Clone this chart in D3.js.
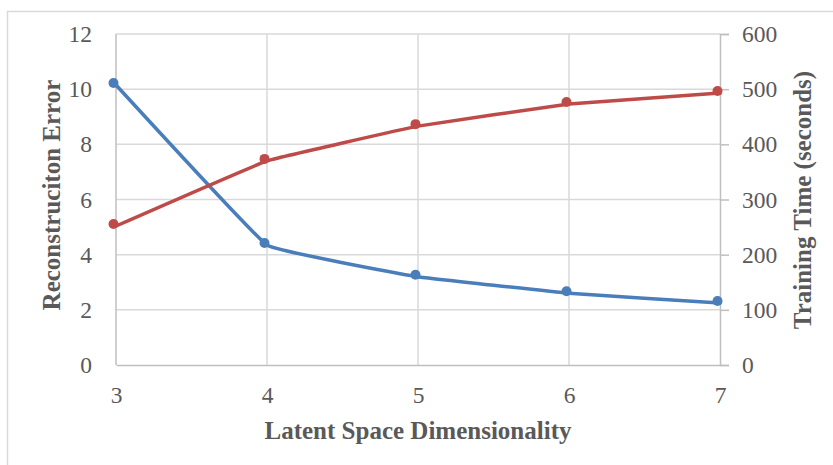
<!DOCTYPE html>
<html>
<head>
<meta charset="utf-8">
<script src="https://cdn.jsdelivr.net/npm/d3@7"></script>
<style>
  body { margin: 0; background: #fff; }
  text { font-family: "Liberation Serif", "Times New Roman", serif; fill: #595959; }
</style>
</head>
<body>
<svg width="833" height="465"></svg>
<script>
// chart data
var dims = [3, 4, 5, 6, 7];
var reconError = [10.15, 4.35, 3.2, 2.6, 2.25];
var trainTime = [252, 370, 433, 473, 493];
var leftTicks = [0, 2, 4, 6, 8, 10, 12];
var rightTicks = [0, 100, 200, 300, 400, 500, 600];

var svg = d3.select("svg"),
    margin = { top: 34, right: 113, bottom: 100, left: 116 },
    width = +svg.attr("width"),
    height = +svg.attr("height");

// outer chart frame
svg.append("rect")
    .attr("x", 7.5).attr("y", 11.5)
    .attr("width", 840).attr("height", 470)
    .attr("fill", "none")
    .attr("stroke", "#d9d9d9")
    .attr("stroke-width", 1.5);

var x = d3.scaleLinear()
    .domain([3, 7])
    .range([margin.left, width - margin.right]);

var yL = d3.scaleLinear()
    .domain([0, 12])
    .range([height - margin.bottom, margin.top]);

var yR = d3.scaleLinear()
    .domain([0, 600])
    .range([height - margin.bottom, margin.top]);

// gridlines
svg.append("g")
    .selectAll("line")
    .data(leftTicks.slice(1))
    .enter().append("line")
    .attr("x1", x(3)).attr("x2", x(7))
    .attr("y1", function(d) { return yL(d); })
    .attr("y2", function(d) { return yL(d); })
    .attr("stroke", "#d9d9d9").attr("stroke-width", 1.5);

svg.append("g")
    .selectAll("line")
    .data(dims.slice(1, -1))
    .enter().append("line")
    .attr("x1", function(d) { return x(d); })
    .attr("x2", function(d) { return x(d); })
    .attr("y1", yL(0)).attr("y2", yL(12))
    .attr("stroke", "#d9d9d9").attr("stroke-width", 1.5);

// left axis
var leftAxis = svg.append("g")
    .attr("transform", "translate(" + margin.left + ",0)")
    .call(d3.axisLeft(yL).tickValues(leftTicks).tickSize(0).tickPadding(24));

// right axis
var rightAxis = svg.append("g")
    .attr("transform", "translate(" + (width - margin.right) + ",0)")
    .call(d3.axisRight(yR).tickValues(rightTicks).tickSize(9).tickPadding(13));

// bottom axis
var bottomAxis = svg.append("g")
    .attr("transform", "translate(0," + (height - margin.bottom) + ")")
    .call(d3.axisBottom(x).tickValues(dims).tickFormat(d3.format("d")).tickSize(0).tickPadding(21));

[leftAxis, rightAxis, bottomAxis].forEach(function(a) {
  a.select(".domain").attr("stroke", "#bfbfbf").attr("stroke-width", 1.5);
  a.selectAll(".tick line").attr("stroke", "#bfbfbf").attr("stroke-width", 1.5);
  a.selectAll(".tick text")
      .style("font-family", "'Liberation Serif', serif")
      .style("font-size", "23.5px")
      .attr("fill", "#595959");
});
leftAxis.select(".domain").remove();
svg.append("line")
    .attr("x1", x(3)).attr("x2", x(3))
    .attr("y1", yL(0)).attr("y2", yL(12))
    .attr("stroke", "#bfbfbf").attr("stroke-width", 1.5);

// series
var series = [
  { values: reconError, y: yL, color: "#4a7ebb" },
  { values: trainTime, y: yR, color: "#be4b48" }
];

series.forEach(function(s) {
  var pts = dims.map(function(d, i) { return [x(d), s.y(s.values[i])]; });
  var line = d3.line().curve(d3.curveCardinal.tension(0.8));
  svg.append("path")
      .attr("d", line(pts))
      .attr("fill", "none")
      .attr("stroke", s.color)
      .attr("stroke-width", 3.5)
      .attr("stroke-linecap", "round");
  svg.append("g")
      .attr("transform", "translate(-2.5,-2)")
      .selectAll("circle")
      .data(pts)
      .enter().append("circle")
      .attr("cx", function(d) { return d[0]; })
      .attr("cy", function(d) { return d[1]; })
      .attr("r", 5)
      .attr("fill", s.color);
});

// axis titles
svg.append("text")
    .attr("x", x(5))
    .attr("y", 439)
    .attr("text-anchor", "middle")
    .style("font-size", "25px")
    .style("font-weight", "bold")
    .text("Latent Space Dimensionality");

svg.append("text")
    .attr("transform", "translate(60,195) rotate(-90)")
    .attr("text-anchor", "middle")
    .style("font-size", "25px")
    .style("font-weight", "bold")
    .text("Reconstruciton Error");

svg.append("text")
    .attr("transform", "translate(811,200) rotate(-90)")
    .attr("text-anchor", "middle")
    .style("font-size", "25px")
    .style("font-weight", "bold")
    .text("Training Time (seconds)");
</script>
</body>
</html>
